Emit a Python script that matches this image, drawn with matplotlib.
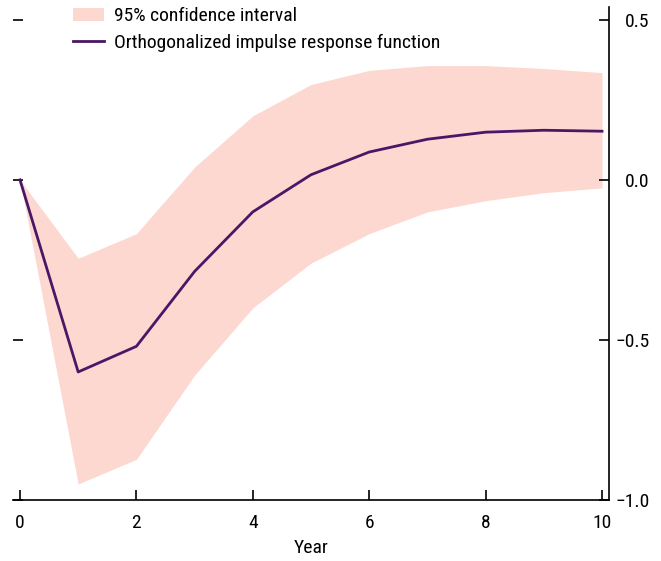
import matplotlib
matplotlib.use('Agg')
import matplotlib.pyplot as plt

plt.rcParams['font.family'] = ['Roboto Condensed', 'Liberation Sans', 'DejaVu Sans']

years = [0, 1, 2, 3, 4, 5, 6, 7, 8, 9, 10]
irf = [0.0, -0.60, -0.52, -0.286, -0.10, 0.016, 0.087, 0.127, 0.149, 0.155, 0.152]
upper = [0.0, -0.245, -0.168, 0.04, 0.20, 0.298, 0.342, 0.357, 0.357, 0.348, 0.335]
lower = [0.0, -0.95, -0.873, -0.61, -0.40, -0.26, -0.168, -0.10, -0.065, -0.04, -0.025]
yticks = [-1.0, -0.5, 0.0, 0.5]
yticklabels = ['\u22121.0', '\u22120.5', '0.0', '0.5']
xticks = [0, 2, 4, 6, 8, 10]

fig = plt.figure(figsize=(6.61, 5.61), dpi=100)
ax = fig.add_axes([13 / 661, 61 / 561, 596 / 661, 493 / 561])

ax.fill_between(years, lower, upper, color='#fdd8d0', lw=0,
                label='95% confidence interval')
ax.plot(years, irf, color='#4a1766', lw=2,
        label='Orthogonalized impulse response function')

ax.set_xlim(-0.12, 10.12)
ax.set_ylim(-1.0, 0.54)
ax.set_xticks(xticks)
ax.set_yticks(yticks)
ax.set_yticklabels(yticklabels)

ax.spines['top'].set_visible(False)
ax.spines['left'].set_visible(False)
for s in ('bottom', 'right'):
    ax.spines[s].set_linewidth(1.2)

ax.tick_params(axis='both', direction='in', length=7, width=1.2,
               labelsize=14)
ax.tick_params(axis='y', left=True, right=True, labelleft=False,
               labelright=True, pad=29)
for lab in ax.get_yticklabels():
    lab.set_horizontalalignment('right')
ax.tick_params(axis='x', pad=10)
ax.set_xlabel('Year', fontsize=14, labelpad=5)

ax.legend(loc='upper left', bbox_to_anchor=(0.078, 1.027), frameon=False,
          fontsize=14, handlelength=1.6, handletextpad=0.5,
          labelspacing=0.42, borderpad=0.2)

fig.savefig('out.png', dpi=100)
